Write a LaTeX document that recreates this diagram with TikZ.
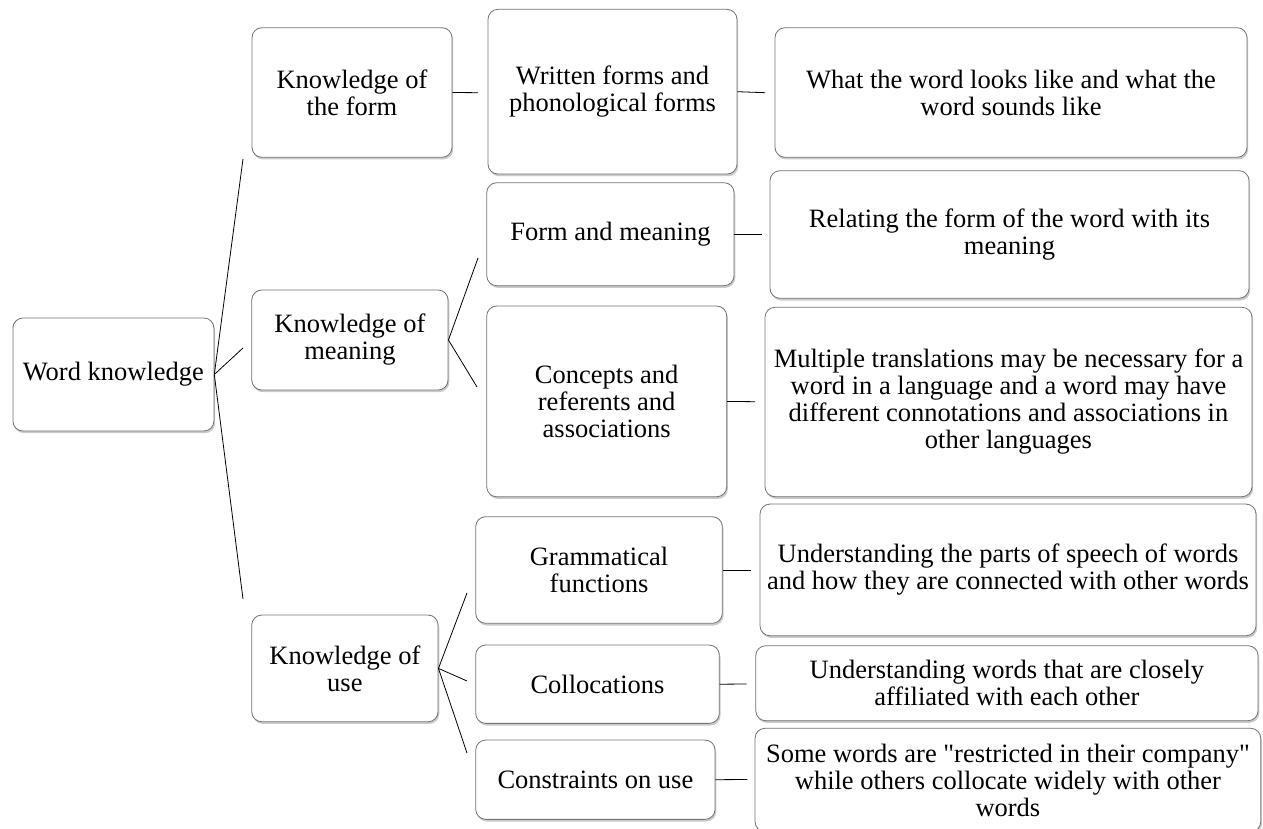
\documentclass[tikz,border=0pt]{standalone}
\usepackage{fontspec}
\setmainfont{Liberation Serif}
\usetikzlibrary{shadows}
\begin{document}
\begin{tikzpicture}[x=1pt,y=-1pt,
  box/.style={draw=black!55, line width=0.8pt, rounded corners=10pt, fill=white,
    align=center, inner sep=0pt, font=\fontsize{26.5}{27}\selectfont,
    drop shadow={opacity=0.35, shadow xshift=1.2pt, shadow yshift=-2.2pt, fill=black!60}},
  link/.style={draw=black, line width=0.8pt}]
\useasboundingbox (0,0) rectangle (1263,829);
\begin{scope}
\clip (0,0) rectangle (1263,829);
% level 0
\node[box, minimum width=201pt, minimum height=113pt] (root) at (113.4,374.5) {Word knowledge};
% level 1
\node[box, minimum width=200pt, minimum height=129.6pt] (form) at (352,92.5) {Knowledge of\\the form};
\node[box, minimum width=196.3pt, minimum height=100pt] (meaning) at (349.9,340) {Knowledge of\\meaning};
\node[box, minimum width=186.3pt, minimum height=106.7pt] (use) at (344.9,668.4) {Knowledge of\\use};
% level 2
\node[box, minimum width=249pt, minimum height=164.7pt] (written) at (612.5,91.7) {Written forms and\\phonological forms};
\node[box, minimum width=247.3pt, minimum height=103pt] (fm) at (610.4,234.2) {Form and meaning};
\node[box, minimum width=240pt, minimum height=190.7pt] (concepts) at (606.7,401.4) {Concepts and\\referents and\\associations};
\node[box, minimum width=246.6pt, minimum height=106.6pt] (gram) at (599,570) {Grammatical\\functions};
\node[box, minimum width=243.6pt, minimum height=78.3pt] (coll) at (597.5,684.2) {Collocations};
\node[box, minimum width=239.3pt, minimum height=79.3pt] (cons) at (595.4,779.7) {Constraints on use};
% level 3
\node[box, minimum width=472pt, minimum height=129.6pt] (what) at (1011,92.5) {What the word looks like and what the\\word sounds like};
\node[box, minimum width=479pt, minimum height=127.6pt] (rel) at (1009.5,234.5) {Relating the form of the word with its\\meaning};
\node[box, minimum width=487pt, minimum height=189.4pt] (mult) at (1008.5,402) {Multiple translations may be necessary for a\\word in a language and a word may have\\different connotations and associations in\\other languages};
\node[box, minimum width=496pt, minimum height=131.7pt] (parts) at (1008,569.9) {Understanding the parts of speech of words\\and how they are connected with other words};
\node[box, minimum width=502.3pt, minimum height=75pt] (close) at (1006.9,683.2) {Understanding words that are closely\\affiliated with each other};
\node[box, minimum width=505.7pt, minimum height=103.4pt] (some) at (1007.9,780) {Some words are \textquotedbl restricted in their company\textquotedbl\\while others collocate widely with other\\words};
\end{scope}
% connector ends
\coordinate (eform) at (243,159);
\coordinate (emeaning) at (243,348);
\coordinate (euse) at (243,599);
\coordinate (ewritten) at (478,92.7);
\coordinate (efm) at (478,258);
\coordinate (econcepts) at (477,387);
\coordinate (egram) at (467,593);
\coordinate (ecoll) at (467,681);
\coordinate (econs) at (467,753);
\coordinate (ewhat) at (765,92.7);
\coordinate (erel) at (762,234.2);
\coordinate (emult) at (755,401.7);
\coordinate (eparts) at (751,570);
\coordinate (eclose) at (746.7,684);
\coordinate (esome) at (747.3,779.5);
% connectors
\draw[link] (root.east) -- (eform);
\draw[link] (root.east) -- (emeaning);
\draw[link] (root.east) -- (euse);
\draw[link] (form.east) -- (ewritten);
\draw[link] (meaning.east) -- (efm);
\draw[link] (meaning.east) -- (econcepts);
\draw[link] (use.east) -- (egram);
\draw[link] (use.east) -- (ecoll);
\draw[link] (use.east) -- (econs);
\draw[link] (written.east) -- (ewhat);
\draw[link] (fm.east) -- (erel);
\draw[link] (concepts.east) -- (emult);
\draw[link] (gram.east) -- (eparts);
\draw[link] (coll.east) -- (eclose);
\draw[link] (cons.east) -- (esome);
\end{tikzpicture}
\end{document}
